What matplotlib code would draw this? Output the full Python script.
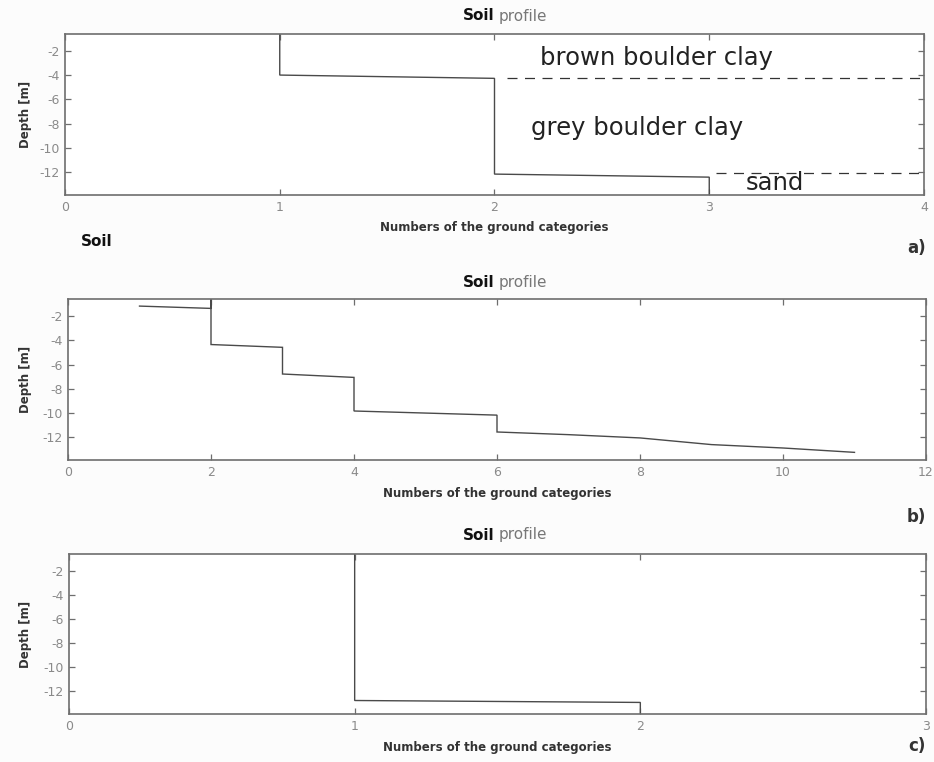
import matplotlib
matplotlib.use("Agg")
import matplotlib.pyplot as plt

plt.rcParams["axes.unicode_minus"] = False

# ---- data ----
ylim = (-13.87, -0.62)
yticks = [-12, -10, -8, -6, -4, -2]

a_x = [1, 1, 2, 2, 3, 3]
a_y = [-0.62, -4.0, -4.27, -12.15, -12.4, -13.87]
a_xticks = [0, 1, 2, 3, 4]

b_x = [1, 2, 2, 2, 3, 3, 4, 4, 6, 6, 7, 8, 9, 10, 11]
b_y = [-1.18, -1.37, -0.62, -4.35, -4.58, -6.78, -7.06, -9.83, -10.17,
       -11.56, -11.78, -12.05, -12.6, -12.88, -13.24]
b_xticks = [0, 2, 4, 6, 8, 10, 12]

c_x = [1, 1, 2, 2]
c_y = [-0.62, -12.75, -12.91, -13.87]
c_xticks = [0, 1, 2, 3]

layer_bounds_y = [-4.27, -12.03]
layer_bounds_x0 = [2.06, 3.03]
layer_names = ["brown boulder clay", "grey boulder clay", "sand"]
layer_name_x = [2.21, 2.17, 3.17]
layer_name_y = [-2.6, -8.36, -12.88]

xlabel = "Numbers of the ground categories"
ylabel = "Depth [m]"
panel_tags = ["a)", "b)", "c)"]

# ---- figure ----
W, H = 934, 762
fig = plt.figure(figsize=(W / 100, H / 100), dpi=100, facecolor="#fcfcfc")

def fx(px):
    return px / W

def fy(py):
    return 1 - py / H

boxes = [(65, 924, 34, 195), (68, 926, 299.3, 460), (69, 926, 554.3, 714)]
series = [(a_x, a_y, a_xticks), (b_x, b_y, b_xticks), (c_x, c_y, c_xticks)]
title_y = [16, 283, 535]
tag_y = [248, 517, 746]

line_col = "#4a4a4a"
spine_col = "#6e6e6e"
tick_col = "#8a8a8a"

axes = []
for (l, r, t, b), (xs, ys, xt) in zip(boxes, series):
    ax = fig.add_axes([fx(l), fy(b), (r - l) / W, (b - t) / H])
    ax.set_facecolor("white")
    ax.plot(xs, ys, color=line_col, lw=1.0, solid_joinstyle="miter")
    ax.set_xlim(xt[0], xt[-1])
    ax.set_ylim(*ylim)
    ax.set_xticks(xt)
    ax.set_yticks(yticks)
    ax.tick_params(direction="in", length=4, width=0.9, color=spine_col,
                   top=True, right=True, labelsize=9, labelcolor=tick_col,
                   pad=4)
    for s in ax.spines.values():
        s.set_color(spine_col)
        s.set_linewidth(1.2)
    ax.set_xlabel(xlabel, fontsize=8.5, fontweight="bold", color="#333333")
    ax.xaxis.set_label_coords(0.5, -(33) / (b - t))
    ax.xaxis.label.set_va("center")
    ax.set_ylabel(ylabel, fontsize=8.5, fontweight="bold", color="#333333")
    ax.yaxis.set_label_coords(-(l - 25) / (r - l), 0.5)
    ax.yaxis.label.set_va("center")
    axes.append(ax)

# layer annotations on panel a
axa = axes[0]
for yb, x0 in zip(layer_bounds_y, layer_bounds_x0):
    axa.plot([x0, a_xticks[-1]], [yb, yb], color="#333333", lw=0.9,
             linestyle=(0, (8, 6)))
for name, x, y in zip(layer_names, layer_name_x, layer_name_y):
    axa.text(x, y, name, fontsize=17.5, color="#222222", ha="left", va="center")

# titles
for ty in title_y:
    fig.text(fx(495), fy(ty), "Soil", fontsize=11, fontweight="bold",
             color="#111111", ha="right", va="center")
    fig.text(fx(499), fy(ty), "profile", fontsize=11, color="#777777",
             ha="left", va="center")

# stray label and panel tags
fig.text(fx(81), fy(241), "Soil", fontsize=11, fontweight="bold",
         color="#111111", ha="left", va="center")
for tag, ty in zip(panel_tags, tag_y):
    fig.text(fx(926), fy(ty), tag, fontsize=12, fontweight="bold",
             color="#333333", ha="right", va="center")

fig.savefig("out.png", dpi=100, facecolor=fig.get_facecolor())
